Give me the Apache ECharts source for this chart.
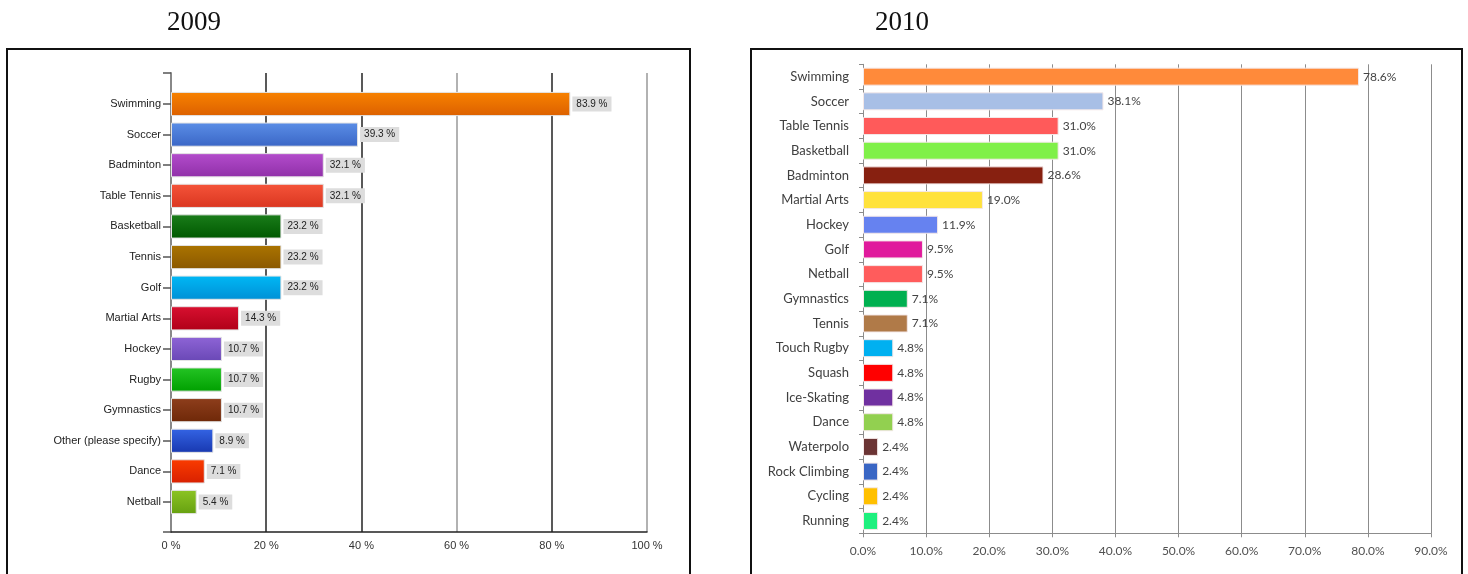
<!DOCTYPE html>
<html>
<head>
<meta charset="utf-8">
<script src="https://cdn.jsdelivr.net/npm/echarts@6/dist/echarts.min.js"></script>
<style>
html,body{margin:0;padding:0;background:#fff;}
#c{width:1468px;height:574px;}
</style>
</head>
<body>
<div id="c"></div>
<script>
// ---------- 2009 data ----------
const cats2009 = ['Swimming','Soccer','Badminton','Table Tennis','Basketball','Tennis','Golf','Martial Arts','Hockey','Rugby','Gymnastics','Other (please specify)','Dance','Netball'];
const vals2009 = [83.9,39.3,32.1,32.1,23.2,23.2,23.2,14.3,10.7,10.7,10.7,8.9,7.1,5.4];
const topColors2009 = ['#f88200','#5b8ee6','#b34ccc','#f5543a','#1a7d1a','#ab7400','#00b8f5','#d81030','#8e64d6','#24c424','#8e3e1c','#3464e4','#fa3c00','#8cc424'];
const botColors2009 = ['#dc6000','#3a66c6','#9030a8','#da3620','#005800','#8a5800','#0090d6','#b00018','#6a48b6','#00a000','#6e2808','#1838b0','#d82000','#66a010'];
const ticks2009 = [0,20,40,60,80,100];

// ---------- 2010 data ----------
const cats2010 = ['Swimming','Soccer','Table Tennis','Basketball','Badminton','Martial Arts','Hockey','Golf','Netball','Gymnastics','Tennis','Touch Rugby','Squash','Ice-Skating','Dance','Waterpolo','Rock Climbing','Cycling','Running'];
const vals2010 = [78.6,38.1,31.0,31.0,28.6,19.0,11.9,9.5,9.5,7.1,7.1,4.8,4.8,4.8,4.8,2.4,2.4,2.4,2.4];
const colors2010 = ['#ff8a3a','#a8bfe6','#ff5a5a','#80f048','#872010','#ffe23c','#6682f0','#e01a9c','#ff5c5c','#00b050','#b07a48','#00b0f0','#ff0000','#7030a0','#92d050','#6b3434','#3a66c4','#ffc000','#1ef07e'];
const ticks2010 = [0,10,20,30,40,50,60,70,80,90];

const chart = echarts.init(document.getElementById('c'));

const data2009 = vals2009.map((v,i)=>({
  value: v,
  itemStyle: {
    color: new echarts.graphic.LinearGradient(0,0,0,1,[{offset:0,color:topColors2009[i]},{offset:1,color:botColors2009[i]}])
  }
}));
const data2010 = vals2010.map((v,i)=>({value:v, itemStyle:{color:colors2010[i]}}));

const option = {
  animation:false,
  title:[
    {text:'2009', left:162, top:4, textStyle:{fontFamily:'Liberation Serif', fontSize:27, fontWeight:'normal', color:'#111'}},
    {text:'2010', left:870, top:4, textStyle:{fontFamily:'Liberation Serif', fontSize:27, fontWeight:'normal', color:'#111'}}
  ],
  graphic:[
    {type:'rect', shape:{x:7, y:49, width:683, height:560}, style:{fill:'none', stroke:'#111', lineWidth:2}, silent:true},
    {type:'rect', shape:{x:751, y:49, width:711, height:560}, style:{fill:'none', stroke:'#111', lineWidth:2}, silent:true}
  ],
  grid:[
    {left:171, top:73, width:476, height:459},       // 2009 frame
    {left:171, top:88.7, width:476, height:428.6},   // 2009 bars
    {left:863, top:64.3, width:568, height:469}      // 2010
  ],
  xAxis:[
    {gridIndex:0, type:'value', min:0, max:100, interval:20,
      axisLine:{show:true, lineStyle:{color:'#222', width:1.5}},
      axisTick:{show:false},
      splitLine:{show:true, lineStyle:{color:['#666','#222','#222','#999','#222','#999'], width:1.5}},
      axisLabel:{formatter: v=>v+' %', fontFamily:'Liberation Sans', fontSize:11, color:'#333', margin:8}},
    {gridIndex:1, type:'value', min:0, max:100, show:false},
    {gridIndex:2, type:'value', min:0, max:90, interval:10,
      axisLine:{show:true, lineStyle:{color:'#8c8c8c', width:1}},
      axisTick:{show:true, length:4, lineStyle:{color:'#8c8c8c'}},
      splitLine:{show:true, lineStyle:{color:'#8c8c8c', width:1}},
      axisLabel:{formatter: v=>v.toFixed(1)+'%', fontFamily:'Lato', fontSize:12, color:'#505050', margin:12}}
  ],
  yAxis:[
    {gridIndex:0, type:'category', data:[''], 
      axisLine:{show:true, lineStyle:{color:'#888', width:2}},
      axisTick:{show:true, length:8, lineStyle:{color:'#555', width:1.5}},
      axisLabel:{show:false}, splitLine:{show:false}},
    {gridIndex:1, type:'category', data:cats2009, inverse:true,
      axisLine:{show:false},
      axisTick:{show:true, alignWithLabel:true, length:8, lineStyle:{color:'#555', width:1.5}},
      axisLabel:{fontFamily:'Liberation Sans', fontSize:11, color:'#222', margin:10}},
    {gridIndex:2, type:'category', data:cats2010, inverse:true,
      axisLine:{show:true, lineStyle:{color:'#8c8c8c'}},
      axisTick:{show:true, length:4, lineStyle:{color:'#8c8c8c'}},
      axisLabel:{fontFamily:'Lato', fontSize:13, color:'#404040', margin:14}}
  ],
  series:[
    {type:'bar', xAxisIndex:1, yAxisIndex:1, data:data2009, barCategoryGap:'21%',
      itemStyle:{borderColor:'#e4e4e4', borderWidth:1},
      label:{show:true, position:'right', distance:2, formatter:p=>p.value.toFixed(1)+' %',
        fontFamily:'Liberation Sans', fontSize:10, color:'#222', backgroundColor:'#dddddd', padding:[3,4,2,4]}},
    {type:'bar', xAxisIndex:2, yAxisIndex:2, data:data2010, barCategoryGap:'27%',
      itemStyle:{borderColor:'#f4e8e8', borderWidth:1},
      label:{show:true, position:'right', distance:4, formatter:p=>p.value.toFixed(1)+'%',
        fontFamily:'Lato', fontSize:12, color:'#444'}}
  ]
};
chart.setOption(option);
</script>
</body>
</html>
